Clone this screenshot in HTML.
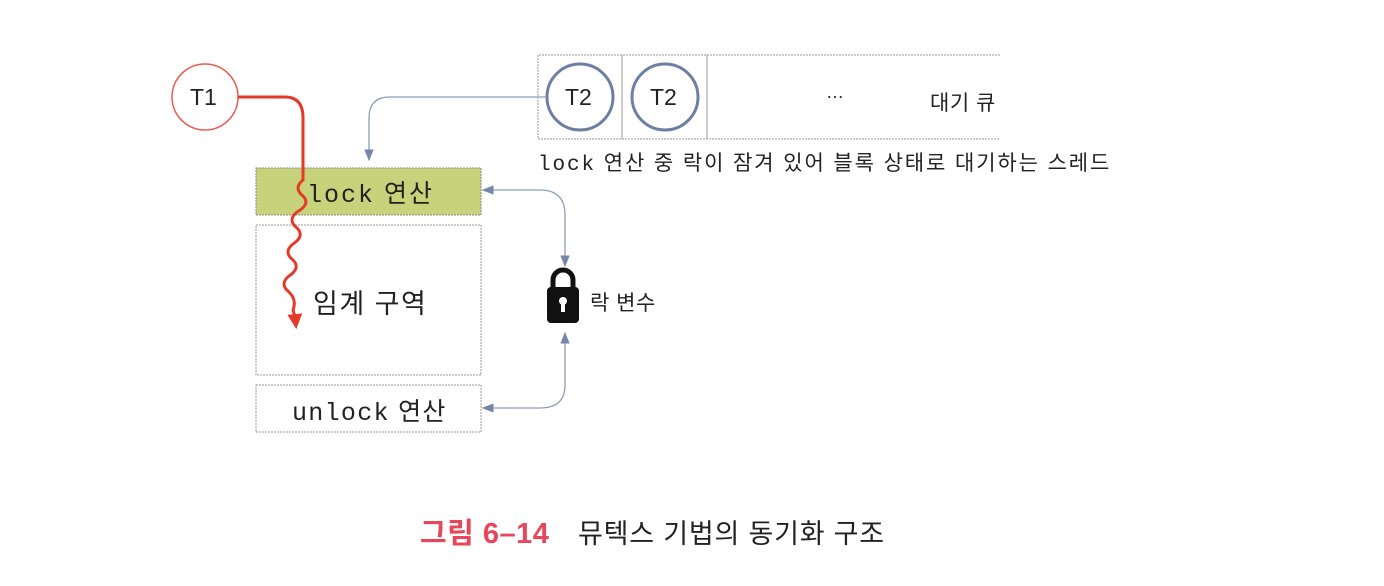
<!DOCTYPE html>
<html><head><meta charset="utf-8"><style>
body{margin:0;background:#fff;width:1384px;height:586px;overflow:hidden;position:relative;font-family:"Liberation Sans","Noto Sans CJK KR",sans-serif;}
.t{position:absolute;white-space:nowrap;color:#222}
.m{font-family:'Liberation Mono','Noto Sans CJK KR',monospace}
</style></head><body>
<svg width="1384" height="586" style="position:absolute;left:0;top:0">
<defs>
<marker id="ab" viewBox="0 0 10 10" refX="9" refY="5" markerWidth="9" markerHeight="9" orient="auto-start-reverse"><path d="M0,1 L10,5 L0,9 Z" fill="#7686a6"/></marker>
<marker id="ar" viewBox="0 0 10 10" refX="8" refY="5" markerWidth="5" markerHeight="5" orient="auto"><path d="M0,0 L10,5 L0,10 Z" fill="#e53a2a"/></marker>
</defs>
<path d="M1000,55 H538 V139 H1000" fill="none" stroke="#999" stroke-dasharray="2,1"/>
<line x1="622" y1="55" x2="622" y2="139" stroke="#999"/>
<line x1="707" y1="55" x2="707" y2="139" stroke="#999"/>
<circle cx="580" cy="97" r="33" fill="#fff" stroke="#6d7fa3" stroke-width="3"/>
<circle cx="665" cy="97" r="33" fill="#fff" stroke="#6d7fa3" stroke-width="3"/>
<rect x="256" y="168" width="225" height="47" fill="#c6d37a" stroke="#888" stroke-dasharray="2,1"/>
<rect x="256" y="225" width="225" height="150" fill="#fff" stroke="#999" stroke-dasharray="2,1"/>
<rect x="256" y="385" width="225" height="47" fill="#fff" stroke="#999" stroke-dasharray="2,1"/>
<circle cx="205" cy="97" r="33" fill="#fff" stroke="#ee5a4e" stroke-width="1.5"/>
<path d="M238,97 H285 Q303,97 303,118 V180 q-10,8 0,16 q8,8 -6,16 q-10,8 0,16 q8,8 -4,16 q-10,8 0,16 q8,8 -4,16 q-10,8 0,16 q8,8 4,18 q2,6 3,16" fill="none" stroke="#e53a2a" stroke-width="3" marker-end="url(#ar)"/>
<path d="M546,97 H390 Q369,97 369,118 V160" fill="none" stroke="#8f9dba" stroke-width="1.3" marker-end="url(#ab)"/>
<path d="M483,190 H540 Q565,190 565,215 V266" fill="none" stroke="#8f9dba" stroke-width="1.3" marker-start="url(#ab)" marker-end="url(#ab)"/>
<path d="M565,333 V385 Q565,408 540,408 H483" fill="none" stroke="#8f9dba" stroke-width="1.3" marker-start="url(#ab)" marker-end="url(#ab)"/>
<path d="M553,288 V280 a10,10 0 0 1 20,0 V288" fill="none" stroke="#111" stroke-width="5"/>
<rect x="547" y="287" width="32" height="36" rx="4" fill="#111"/>
<circle cx="563" cy="301" r="4" fill="#fff"/><rect x="561" y="302" width="4" height="10" fill="#fff"/>
</svg>
<div class="t" style="left:190px;top:84px;font-size:23px">T1</div>
<div class="t" style="left:565px;top:84px;font-size:23px">T2</div>
<div class="t" style="left:650px;top:84px;font-size:23px">T2</div>
<div class="t" style="left:826px;top:82px;font-size:18px">…</div>
<div class="t" style="left:930px;top:87px;font-size:21px;letter-spacing:0.5px">대기 큐</div>
<div class="t" style="left:538px;top:147px;font-size:21px;letter-spacing:1.9px"><span class="m">lock</span> 연산 중 락이 잠겨 있어 블록 상태로 대기하는 스레드</div>
<div class="t" style="left:307px;top:174px;font-size:25px;letter-spacing:2px"><span class="m">lock</span> 연산</div>
<div class="t" style="left:313px;top:282px;font-size:27px;letter-spacing:1.5px">임계 구역</div>
<div class="t" style="left:292px;top:392px;font-size:25px;letter-spacing:1.3px"><span class="m">unlock</span> 연산</div>
<div class="t" style="left:590px;top:287px;font-size:21px;letter-spacing:0.5px">락 변수</div>
<div class="t" style="left:420px;top:510px;font-size:29px;color:#e8465a;font-weight:bold;letter-spacing:0.5px">그림 6–14</div>
<div class="t" style="left:578px;top:512px;font-size:27px;letter-spacing:0.8px">뮤텍스 기법의 동기화 구조</div>
</body></html>
